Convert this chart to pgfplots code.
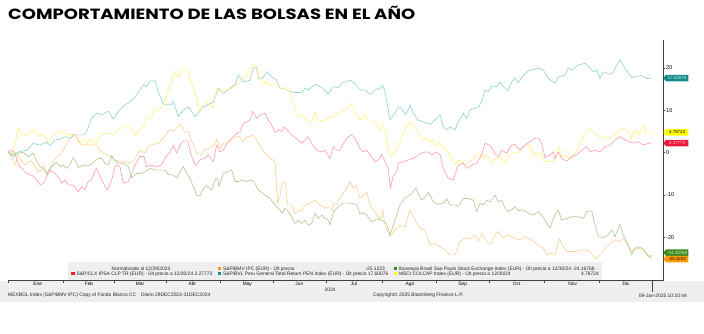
\documentclass[border=0pt]{standalone}
\usepackage{pgfplots}
\pgfplotsset{compat=1.18}
\usepackage{fontspec}
\setmainfont{Liberation Sans}
\newfontfamily\titlefont{Poppins}
\usetikzlibrary{shapes.symbols}
\definecolor{lteal}{HTML}{96D3D3}
\definecolor{lyel}{HTML}{FFF385}
\definecolor{lred}{HTML}{FFA0AE}
\definecolor{lora}{HTML}{FFD09A}
\definecolor{lgrn}{HTML}{B2C993}
\definecolor{tteal}{HTML}{138C8C}
\definecolor{tyel}{HTML}{FFFF00}
\definecolor{tred}{HTML}{EE1C3C}
\definecolor{tgrn}{HTML}{3E8A1E}
\definecolor{tora}{HTML}{FF9A00}
\definecolor{bandgray}{HTML}{EFEFEF}
\newcommand{\sm}{\fontsize{4.9}{5}\selectfont}
\begin{document}
\begin{tikzpicture}[x=1pt,y=1pt]
\useasboundingbox (0,0) rectangle (704,-334);
\fill[bandgray] (0,-281) rectangle (704,-302);
\fill[bandgray] (68,-262) rectangle (602,-280.5);
\node[anchor=base west, inner sep=0pt] at (8,-19.3) {\resizebox{407pt}{13.3pt}{\titlefont\bfseries COMPORTAMIENTO DE LAS BOLSAS EN EL AÑO}};
\begin{axis}[at={(8pt,-280.7pt)}, anchor=south west, scale only axis,
  width=655pt, height=240.7pt,
  xmin=8, xmax=663, ymin=-30.2, ymax=26.6,
  axis x line*=bottom, axis y line*=right,
  axis line style={draw=black!75, line width=0.5pt},
  clip=false,
  ytick={-20,-10,0,10,20},
  minor ytick={-25,-15,-5,5,15,25},
  yticklabel style={font=\fontsize{5.5}{6}\selectfont, inner sep=1pt},
  /pgf/number format/assume math mode=true,
  xtick={8.3,63.3,114.5,166,220,273,326.6,382,436,489.7,544.7,599.3,652.3},
  xticklabels={},
  extra x ticks={37.7,89,140,192.3,247.3,299.3,354,410,462.7,516.7,572.7,626},
  extra x tick labels={Ene,Feb,Mar,Abr,May,Jun,Jul,Ago,Sep,Oct,Nov,Dic},
  extra x tick style={major tick length=0pt, xticklabel style={font=\fontsize{4.8}{5}\selectfont, inner sep=1pt}},
  tick align=outside,
  major tick length=2pt, minor tick length=1.2pt,
  tick style={draw=black!75, line width=0.5pt},
  every axis plot/.append style={line width=0.65pt, line join=round},
]
\addplot[lteal] coordinates {(8,0)(13.3,-0.5)(18.3,0.2)(26.7,0.6)(33.3,2.2)(36.7,2.0)(40,1.8)(46.7,2.5)(50,1.7)(55,3.0)(60,3.2)(65,3.8)(70,3.4)(75,4.2)(83.3,4.2)(86.7,5.0)(91.7,8.1)(96.7,9.3)(101.7,8.9)(108.3,9.8)(113.3,7.9)(118.3,9.7)(125,11.3)(130,12.0)(135,13.2)(138.3,14.2)(143.3,16.0)(146.7,15.6)(150,16.9)(155,17.0)(158.3,14.4)(163.3,11.4)(171.7,11.4)(173.3,12.2)(178.3,8.5)(183.3,10.1)(188.3,10.8)(195,8.5)(201.7,10.5)(208.3,11.4)(213.3,12.0)(218.3,15.2)(223.3,14.0)(230,15.2)(235,16.0)(238.3,18.3)(243.3,16.7)(250,17.1)(253.3,19.9)(256.7,20.3)(258.3,17.5)(263.3,17.7)(266.7,19.1)(271.7,17.9)(276.7,17.1)(280,15.2)(285,15.2)(288.3,14.6)(295,14.2)(301.7,14.2)(305,15.2)(308.3,14.8)(315,16.1)(320,15.6)(323.3,15.2)(328.3,13.8)(331.7,15.3)(335,15.6)(338.3,15.3)(341.7,16.4)(350,17.1)(355,16.4)(360,14.8)(365,14.8)(370,13.8)(375,14.8)(380,15.2)(382.7,16.0)(385,14.4)(390,7.7)(395,9.3)(398.3,10.8)(401.7,10.5)(405,9.1)(407.3,9.5)(410,11.3)(413.3,9.3)(418.3,7.7)(423.3,7.3)(430,6.7)(433.3,7.3)(438.3,8.5)(440,8.9)(443.3,6.1)(446.7,5.4)(450,6.1)(455,5.4)(458.3,7.3)(463.3,9.3)(466.7,8.1)(470,10.1)(475,10.5)(478.3,10.8)(481.7,12.0)(485,14.8)(488.3,14.4)(491.7,15.8)(496.7,15.6)(500,16.7)(503.3,15.6)(507.7,14.6)(511.7,16.7)(515,17.7)(518.3,16.5)(523.3,18.3)(528.3,19.3)(538.3,20.0)(543.3,19.5)(548.3,17.5)(555,16.4)(558.3,17.9)(565,18.3)(568.3,20.0)(571.7,19.5)(578.3,20.7)(585,21.1)(590,19.9)(593.3,19.1)(596.7,19.5)(600,17.5)(603.3,19.1)(610,18.5)(613.3,19.0)(616.7,20.7)(620,21.9)(625,19.9)(631.7,17.7)(635,17.9)(641.7,18.2)(646.7,17.5)(651.7,17.6)};
\addplot[lyel] coordinates {(8,0.2)(13.3,-0.1)(18.3,5.9)(21.7,4.6)(26.7,4.0)(33.3,5.4)(38.3,3.8)(41.7,4.3)(45,4.0)(48.3,2.5)(51.7,3.4)(55,4.8)(60,4.6)(63.3,5.0)(66.7,4.3)(71.7,4.3)(75,4.2)(78.3,2.6)(83.3,2.8)(86.7,2.2)(91.7,3.4)(95,1.8)(98.3,3.4)(101.7,4.6)(106.7,4.6)(113.3,4.3)(118.3,5.4)(123.3,6.1)(128.3,6.1)(131.7,5.4)(135,4.0)(138.3,5.0)(143.3,6.1)(146.7,8.1)(151.7,8.5)(155,10.1)(158.3,9.8)(163.3,11.3)(166.7,13.6)(168.3,14.8)(171.7,16.7)(175,19.3)(178.3,17.7)(181.7,19.5)(185,19.5)(187.7,19.7)(190,17.5)(195,14.0)(200,9.7)(205,12.0)(208.3,11.7)(213.3,10.6)(216.7,15.2)(220,14.4)(225,14.8)(231.7,15.2)(236.7,16.0)(241.7,17.1)(246.7,18.3)(250,19.5)(253.3,20.7)(255,20.7)(258.3,17.9)(261.7,17.1)(263.3,16.0)(266.7,16.9)(270,16.0)(275,16.4)(280,15.2)(285,15.2)(290,14.4)(293.3,12.4)(296,9.3)(300,8.5)(303.3,8.9)(308.3,7.3)(311.7,7.3)(315,9.7)(318.3,7.7)(323.3,7.5)(328.3,8.5)(331.7,8.1)(335,8.9)(338.3,9.3)(343.3,10.1)(348.3,10.5)(351,11.7)(355,9.7)(360,7.7)(363.3,8.5)(365,9.0)(368.3,7.7)(373.3,7.7)(380,5.4)(383.3,6.5)(385,5.4)(387.3,2.2)(390,-0.9)(395,0.2)(398.3,1.4)(403.3,5.0)(406.7,6.1)(410,7.3)(413.3,6.5)(418.3,4.6)(421.7,3.0)(426.7,3.4)(430,2.6)(433.3,3.0)(436,1.4)(438.3,2.6)(443.3,1.0)(448.3,0.2)(451.7,-1.3)(455,-2.9)(458.3,-1.7)(461.7,-2.1)(465,-2.9)(470,-2.1)(475,-0.9)(480,-0.1)(483.3,-1.3)(486.7,-0.5)(491.7,-2.5)(496.7,-1.3)(500,-0.9)(505,-2.5)(510,-0.5)(515,0.2)(518.3,-0.1)(523.3,1.4)(526.7,2.2)(530,1.8)(533.3,-0.9)(535,0.2)(538.3,-0.5)(541.7,-0.1)(543.3,-2.0)(548.3,-2.0)(553.3,-2.1)(555.7,-0.9)(559.3,1.4)(561.7,-0.9)(565,-0.5)(568.3,-1.3)(571.7,-1.3)(576.7,0.6)(581.7,3.0)(585,4.6)(590,5.6)(595,4.6)(600,3.5)(605,3.8)(610,3.4)(613.3,4.2)(616.7,4.6)(621.7,5.6)(626.7,5.4)(631.7,3.4)(635,5.4)(638.3,4.2)(643.3,6.5)(646.7,4.6)(651.7,4.8)};
\addplot[lred] coordinates {(8,0.2)(11.7,0.6)(15,-0.1)(18.3,-2.9)(21.7,-3.7)(26.7,-4.9)(31.7,-5.3)(35,-5.9)(40,-7.5)(43.3,-7.3)(46.7,-5.7)(50,-4.1)(55,-4.9)(58.3,-5.7)(61.7,-7.2)(65,-6.4)(68.3,-7.6)(73.3,-7.6)(78.3,-9.2)(81.7,-8.0)(85,-8.8)(88.3,-6.8)(91.7,-6.4)(95,-4.1)(96.7,-3.7)(100,-5.7)(103.3,-7.2)(107.3,-8.8)(111.7,-6.4)(115,-3.3)(116.7,-2.9)(120,-3.3)(123.3,-7.2)(128.3,-6.8)(131.7,-4.9)(135,-2.9)(140,-0.9)(144,-0.9)(146.7,-3.3)(151.7,-2.9)(156.7,-3.3)(161.7,-2.9)(165,-1.3)(170,0.2)(173.3,1.7)(176.7,-0.1)(180,1.8)(183.3,2.8)(187.7,2.8)(191,-0.5)(195.7,-3.1)(200,-1.7)(205,-1.3)(208.3,-0.5)(213.3,-2.1)(216.7,1.8)(220,0.2)(223.3,0.6)(226.7,2.2)(231.7,3.4)(236.7,4.6)(240,4.9)(243.3,6.9)(246.7,7.3)(250,7.7)(252.7,9.8)(256.7,8.1)(260,8.9)(265,9.3)(268.3,7.7)(271.7,6.5)(275,4.8)(278.3,5.4)(281.7,5.0)(284.3,6.1)(288.3,5.0)(293.3,3.8)(298.3,3.0)(301.7,2.2)(305,3.0)(308.3,3.8)(311.7,2.2)(316.7,0.6)(321.7,0.2)(325,0.6)(330,-1.3)(333.3,1.4)(336.7,0.6)(340,0.6)(343.3,2.2)(348.3,3.8)(351.7,4.2)(355,3.4)(360,1.0)(363.3,0.2)(366.7,0.6)(370,-0.5)(375,-2.1)(378.3,-1.7)(381.7,-0.4)(385,-2.1)(388.3,-3.7)(390.3,-8.4)(393.3,-5.3)(396.7,-4.5)(398.3,-2.5)(403.3,-2.1)(408.3,-1.7)(413.3,-1.3)(418.3,-0.5)(423.3,0.1)(428.3,0.2)(431.7,-0.5)(436.7,0.2)(440,-0.5)(443.3,-3.7)(448.3,-6.0)(453.3,-6.4)(458.3,-2.9)(463.3,-2.5)(466.7,-3.7)(471.7,-2.9)(476.7,-2.5)(481.7,-0.5)(485,2.2)(490,1.8)(495,-0.3)(498.3,-0.9)(501.7,0.6)(506.7,-0.1)(511.7,1.8)(515,2.0)(520,0.6)(525,1.8)(530,2.6)(535,3.4)(538.3,3.5)(541.7,2.2)(545,-1.2)(550,-0.5)(553.3,0.2)(555,-1.5)(558.3,0.2)(561.7,-1.3)(566.7,-2.0)(571.7,-0.9)(576.7,-0.5)(581.7,0.6)(586.7,1.4)(590,0.2)(595,0.6)(600,0.2)(605,1.4)(610,1.8)(615,3.0)(620,3.8)(625,3.0)(630,2.5)(633.3,2.3)(638.3,2.6)(643.3,1.8)(648.3,2.2)(651.7,2.3)};
\addplot[lora] coordinates {(8,0.2)(11.7,-0.9)(15,-2.9)(18.3,-0.5)(21.7,-2.1)(25,-2.9)(28.3,-2.1)(31.7,-2.0)(35,-3.3)(38.3,-4.5)(41.7,-4.1)(43.3,-2.9)(46.7,-4.9)(50,-3.7)(53.3,-2.1)(56.7,-0.9)(60,-0.5)(63.3,0.6)(66.7,2.2)(70,3.4)(73.3,4.4)(76.7,3.8)(80,2.2)(83.3,1.8)(86.7,2.0)(91.7,1.8)(96.7,1.8)(100,0.6)(103.3,-0.1)(106.7,-0.5)(110,-0.8)(115,-1.7)(120,-2.0)(125,-2.1)(128.3,-2.5)(133.3,-2.1)(136.7,-0.5)(140,0.6)(145,-0.1)(148.3,1.4)(153.3,2.0)(158.3,2.2)(163.3,3.4)(168.3,5.1)(170,5.4)(173.3,5.0)(180,6.7)(185,4.8)(188.3,5.1)(191.7,2.6)(196.7,-0.1)(201.7,-0.4)(205,1.0)(208.3,0.6)(211.7,1.4)(215,2.2)(216.7,3.2)(220,1.0)(223.3,2.2)(228.3,2.4)(233.3,3.4)(238.3,4.0)(243.3,2.6)(246.7,3.8)(250,3.8)(253.3,4.2)(256.7,3.0)(261.7,1.0)(265,-0.1)(270,-1.3)(275,-2.0)(277.7,-11.9)(280,-10.0)(282.3,-7.0)(285,-6.8)(287.7,-12.3)(291.7,-12.3)(295,-14.3)(298.3,-13.5)(301.7,-13.8)(305,-12.3)(310,-11.9)(315,-11.2)(320,-12.3)(325,-13.1)(328.3,-12.7)(331.7,-13.5)(333.3,-11.9)(336.7,-12.3)(341.7,-10.0)(346.7,-8.4)(350,-6.8)(353.3,-8.3)(356,-7.7)(360,-10.8)(363.3,-10.0)(366.7,-9.3)(370,-12.3)(375,-13.9)(380,-15.9)(382.7,-13.5)(385,-17.1)(390,-19.8)(395,-18.2)(400,-17.1)(405,-17.5)(410,-13.5)(415,-15.9)(420,-17.8)(425,-18.2)(430,-21.8)(435,-21.4)(440,-22.2)(445,-22.9)(450,-24.1)(455,-24.1)(460,-21.0)(465,-20.2)(471.7,-20.2)(475,-19.4)(478.3,-21.0)(481.7,-19.0)(485,-20.2)(488.3,-21.4)(491.7,-21.4)(495,-19.4)(498.3,-18.6)(503.3,-20.2)(508.3,-19.4)(515,-20.2)(520,-20.6)(525,-19.8)(531.7,-20.6)(538.3,-21.8)(543.3,-22.5)(546.7,-24.1)(550,-23.7)(555,-24.1)(559.3,-20.2)(563.3,-22.2)(566.7,-23.3)(575,-23.3)(583.3,-22.9)(590,-23.3)(595,-25.1)(600,-24.1)(605,-22.5)(610,-21.4)(615,-20.6)(620,-21.0)(623.3,-20.2)(626.7,-21.4)(631.7,-23.3)(635,-22.9)(640,-22.5)(645,-22.9)(648.3,-24.5)(651.7,-25.1)};
\addplot[lgrn] coordinates {(8,0.2)(13.3,-0.9)(18.3,-0.1)(23.3,0.1)(28.3,-0.9)(33.3,-0.1)(36.7,-2.1)(40,-3.3)(43.3,-3.7)(46.7,-5.1)(50,-3.7)(53.3,-2.9)(56.7,-2.3)(60,-3.3)(63.3,-2.9)(66.7,-3.7)(70,-2.9)(72.7,-1.2)(76,-2.1)(78.3,-3.5)(83.3,-2.9)(88.3,-3.1)(93.3,-2.3)(96.7,-1.5)(101.7,-1.3)(105,-2.5)(108.3,-2.9)(111.7,-0.7)(115,-2.0)(120,-2.5)(123.3,-2.5)(128.3,-3.3)(131.7,-5.9)(136.7,-4.9)(140,-4.9)(145,-4.5)(150,-3.7)(155,-4.1)(160,-4.1)(165,-4.1)(168.3,-5.1)(173.3,-5.3)(176.7,-6.0)(180,-4.5)(183.3,-3.3)(186.7,-4.9)(190,-6.0)(193.3,-8.0)(196.7,-10.0)(200,-10.1)(203.3,-8.4)(206.7,-7.8)(211.7,-8.8)(215,-6.4)(217.7,-6.0)(219,-8.0)(223.3,-4.9)(226.7,-4.5)(231.7,-4.1)(235,-6.8)(238.3,-6.8)(241.7,-6.4)(246.7,-6.8)(251.7,-6.4)(255,-7.2)(258.3,-8.8)(265,-10.0)(270,-10.8)(275,-12.3)(280,-13.5)(282.3,-14.3)(285,-13.1)(288.3,-13.9)(291.7,-15.1)(295,-16.7)(298.3,-15.9)(301.7,-16.7)(305,-15.9)(308.3,-17.1)(311.7,-16.7)(315,-14.3)(318.3,-15.5)(321.7,-14.7)(325,-15.5)(328.3,-15.9)(330,-17.1)(333.3,-13.9)(338.3,-12.7)(343.3,-11.9)(350,-11.9)(356.7,-12.2)(360,-14.5)(363.3,-14.1)(366.7,-14.7)(371.7,-16.3)(376.7,-15.6)(381.7,-15.9)(386.7,-16.7)(390,-19.4)(393.3,-17.1)(396.7,-14.7)(400,-12.3)(405,-10.6)(410,-10.0)(412.7,-9.3)(416,-8.3)(418.3,-9.7)(421.7,-11.2)(425,-10.5)(428.3,-9.3)(433.3,-11.6)(438.3,-12.2)(443.3,-11.9)(446.7,-10.9)(450,-12.3)(455,-12.3)(458.3,-12.7)(463.3,-10.8)(468.3,-10.8)(473.3,-11.2)(476.7,-13.9)(480,-11.9)(483.3,-12.3)(486.7,-11.2)(490,-11.6)(495,-10.0)(498.3,-11.6)(501.7,-11.2)(505,-13.1)(508.3,-13.9)(511.7,-13.5)(515,-12.7)(518.3,-13.7)(523.3,-13.5)(528.3,-14.3)(533.3,-14.7)(538.3,-13.9)(541.7,-14.7)(545,-15.9)(550,-17.8)(553.3,-15.5)(556.7,-13.9)(558.3,-13.5)(561.7,-15.9)(566.7,-15.5)(571.7,-15.1)(578.3,-15.1)(583.3,-15.5)(586.7,-13.9)(591.7,-13.7)(595,-17.1)(598.3,-19.8)(603.3,-20.0)(608.3,-19.4)(611.7,-18.2)(615,-19.8)(620,-16.9)(623.3,-19.4)(628.3,-21.8)(631.7,-24.1)(635,-22.5)(638.3,-22.2)(641.7,-22.5)(646.7,-24.1)(650,-24.5)(651.7,-24.2)};
\begin{scope}[every node/.style={signal, signal to=west, signal pointer angle=100, anchor=west, minimum height=6.5pt, minimum width=25pt, inner sep=0.6pt, font=\fontsize{4.4}{4.6}\selectfont}]
\node[fill=tteal, text=white!85!tteal] at (axis cs:663,17.6) {17.60076};
\node[fill=tyel, text=black] at (axis cs:663,4.787) {4.78724};
\node[fill=tred, text=white!80!tred] at (axis cs:663,2.278) {2.27773};
\node[fill=tgrn, text=white!85!tgrn] at (axis cs:663,-23.6) {-24.16768};
\node[fill=tora, text=black] at (axis cs:663,-25.1) {-25.1223};
\end{scope}
\draw[black!75, line width=0.5pt] (axis cs:652.3,-30.2) -- (axis cs:652.3,-32.8);
\end{axis}
% legend
\begin{scope}[every node/.style={inner sep=0pt, font=\sm, text=black!85}]
\node[anchor=center] at (141,-268.7) {Normalizado al 12/29/2023};
\fill[tora] (217.5,-266.9) rectangle (221,-270.4);
\node[anchor=west] at (222.8,-268.7) {S\&P/BMV IPC (EUR) - Últ precio};
\node[anchor=east] at (385,-268.7) {-25.1223};
\fill[tgrn] (393.5,-266.9) rectangle (397,-270.4);
\node[anchor=west] at (398.8,-268.7) {Ibovespa Brasil Sao Paulo Stock Exchange Index (EUR) - Últ precio a 12/30/24 -24.16768};
\fill[tred] (71,-271.9) rectangle (74.5,-275.4);
\node[anchor=west] at (76.5,-273.7) {S\&P/CLX IPSA CLP TR (EUR) - Últ precio a 12/30/24 2.27773};
\fill[tteal] (217.5,-271.9) rectangle (221,-275.4);
\node[anchor=west] at (222.8,-273.7) {S\&P/BVL Peru General Total Return PEN Index (EUR) - Últ precio 17.60076};
\fill[tyel] (393.5,-271.9) rectangle (397,-275.4);
\node[anchor=west] at (398.8,-273.7) {MSCI COLCAP Index (EUR) - Últ precio a 12/30/24};
\node[anchor=east] at (599,-273.7) {4.78724};
\node at (330,-290) {2024};
\node[anchor=west] at (8,-295.7) {MEXBOL Index (S\&P/BMV IPC) Copy of Fondo Blanco CC\quad Diario 29DEC2023-31DEC2024};
\node[anchor=west] at (373,-295.7) {Copyright© 2025 Bloomberg Finance L.P.};
\node[anchor=east] at (687,-295.7) {09-Jan-2025 10:10:44};
\end{scope}
\end{tikzpicture}
\end{document}
